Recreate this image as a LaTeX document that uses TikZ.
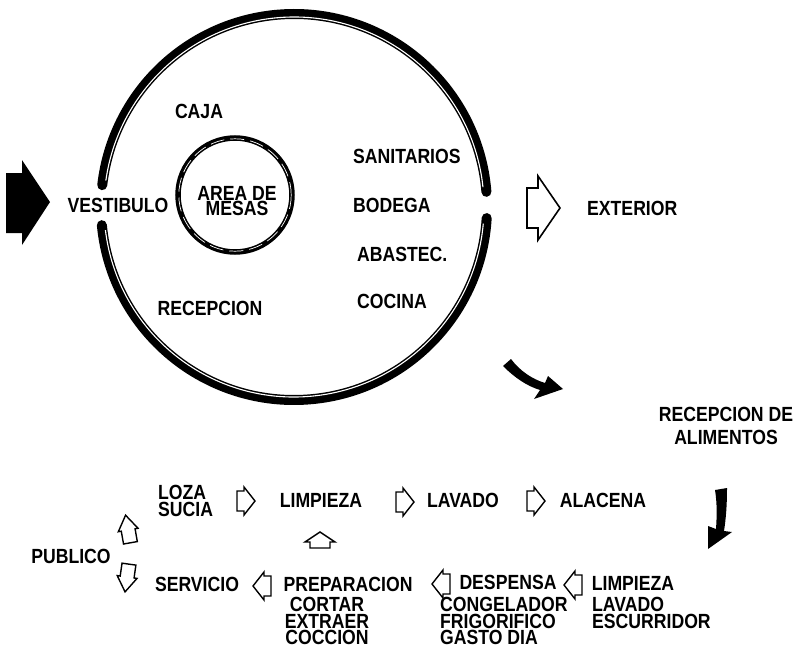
\documentclass[tikz,border=0pt]{standalone}
\usepackage{fontspec}
\newfontfamily\labfont[FakeStretch=0.86]{Liberation Sans}
\begin{document}
\begin{tikzpicture}[x=1pt,y=-1pt,
  lab/.style={font=\labfont\bfseries\fontsize{20.5}{16.5}\selectfont, inner sep=0pt, text=black},
  labwide/.style={lab, font=\labfont\bfseries\fontsize{20.5}{23}\selectfont},
  ringblack/.style={line width=10pt, line cap=round},
  ringwhite/.style={white, line width=1.1pt},
  innerblack/.style={line width=5.5pt},
  innerwhite/.style={white, line width=0.7pt},
  harrow/.pic={\draw[line width=1.4pt, line join=miter, fill=white]
     (-9,-10) -- (-2,-10) -- (-2,-14) -- (9,0) -- (-2,14) -- (-2,10) -- (-9,10) -- cycle;},
  tallharrow/.pic={\draw[line width=1.4pt, line join=miter, fill=white]
     (-14,-7) -- (-1,-7) -- (-1,-10) -- (14,0) -- (-1,10) -- (-1,7) -- (-14,7) -- cycle;},
  bigharrow/.pic={\draw[line width=1.6pt, line join=miter, fill=white]
     (-16,-20) -- (-5,-20) -- (-5,-32) -- (17,0) -- (-5,32) -- (-5,20) -- (-16,20) -- cycle;},
  flatharrow/.pic={\draw[line width=1.4pt, line join=miter, fill=white]
     (-8,-10) -- (-2,-10) -- (-2,-15) -- (8,0) -- (-2,15) -- (-2,10) -- (-8,10) -- cycle;}
]
\useasboundingbox (0,0) rectangle (806,661);
\fill[white] (0,0) rectangle (806,661);

% outer ring
\draw[ringblack] (294,207) ++(-4.5:193) arc[start angle=-4.5, end angle=-173.5, radius=193];
\draw[ringblack] (294,207) ++(174.6:193) arc[start angle=174.6, end angle=3.3, radius=193];
\draw[ringwhite] (294,207) ++(-6:190) arc[start angle=-6, end angle=-172, radius=190];
\draw[ringwhite] (294,207) ++(173:190) arc[start angle=173, end angle=5, radius=190];

% inner ring
\draw[innerblack] (235,195) circle[radius=57];
\draw[innerwhite, dash pattern=on 14pt off 6pt] (235,195) circle[radius=56.2];

% entrance arrow
\fill (6,173) -- (22,173) -- (22,160) -- (50,202) -- (22,245) -- (22,233) -- (6,233) -- cycle;

% texts inside circle
\node[lab] (caja) at (199,111) {CAJA};
\node[lab] (vest) at (118,205) {VESTIBULO};
\node[lab, align=center, font=\labfont\bfseries\fontsize{20.5}{15.5}\selectfont] (mesas) at (237,201) {AREA DE\\MESAS};
\node[lab, anchor=west] (sanit) at (353,156) {SANITARIOS};
\node[lab, anchor=west] (bodega) at (353,205) {BODEGA};
\node[lab, anchor=west] (abast) at (357,254) {ABASTEC.};
\node[lab, anchor=west] (cocina) at (357,301) {COCINA};
\node[lab] (recep) at (210,308) {RECEPCION};

% exterior
\pic at (543,208) {bigharrow};
\node[lab, anchor=west] (ext) at (587,208) {EXTERIOR};

% curved black arrows
\fill (503,366) .. controls (515,378) and (527,386) .. (540,390) -- (534,399) -- (563,389)
  -- (548,376) -- (545,383) .. controls (532,379) and (520,371) .. (511,359) -- cycle;
\fill (715,490) -- (727,488) .. controls (727,505) and (726,518) .. (724,531) -- (732,532)
  -- (708,549) -- (708,526) -- (716,529) .. controls (717,515) and (717,502) .. (715,490) -- cycle;

\node[labwide, align=center] (recal) at (726,426) {RECEPCION DE\\ALIMENTOS};

% bottom flow, upper row
\node[lab, align=left, anchor=west] (loza) at (158,501) {LOZA\\SUCIA};
\pic at (246,501) {harrow};
\node[lab] (limp1) at (321,500) {LIMPIEZA};
\pic at (405,502) {harrow};
\node[lab] (lav1) at (463,500) {LAVADO};
\pic at (536,501) {harrow};
\node[lab] (alac) at (603,500) {ALACENA};

% left side
\pic[rotate=100] at (128,529) {tallharrow};
\node[lab] (pub) at (71,556) {PUBLICO};
\pic[rotate=262] at (127,578) {tallharrow};

% connecting up arrow
\pic[rotate=90] at (320,540) {flatharrow};

% lower row
\node[lab] (serv) at (197,584) {SERVICIO};
\pic[rotate=180] at (262,586) {harrow};
\node[lab] (prep) at (348,584) {PREPARACION};
\node[lab, align=center] (prepsub) at (327,621) {CORTAR\\EXTRAER\\COCCION};
\pic[rotate=180] at (441,584) {harrow};
\node[lab] (desp) at (508,582) {DESPENSA};
\node[lab, align=left, anchor=west] (despsub) at (440,621) {CONGELADOR\\FRIGORIFICO\\GASTO DIA};
\pic[rotate=180] at (573,585) {harrow};
\node[lab] (limp2) at (633,583) {LIMPIEZA};
\node[lab, align=left, anchor=west] (limpsub) at (592,613) {LAVADO\\ESCURRIDOR};
\end{tikzpicture}
\end{document}
